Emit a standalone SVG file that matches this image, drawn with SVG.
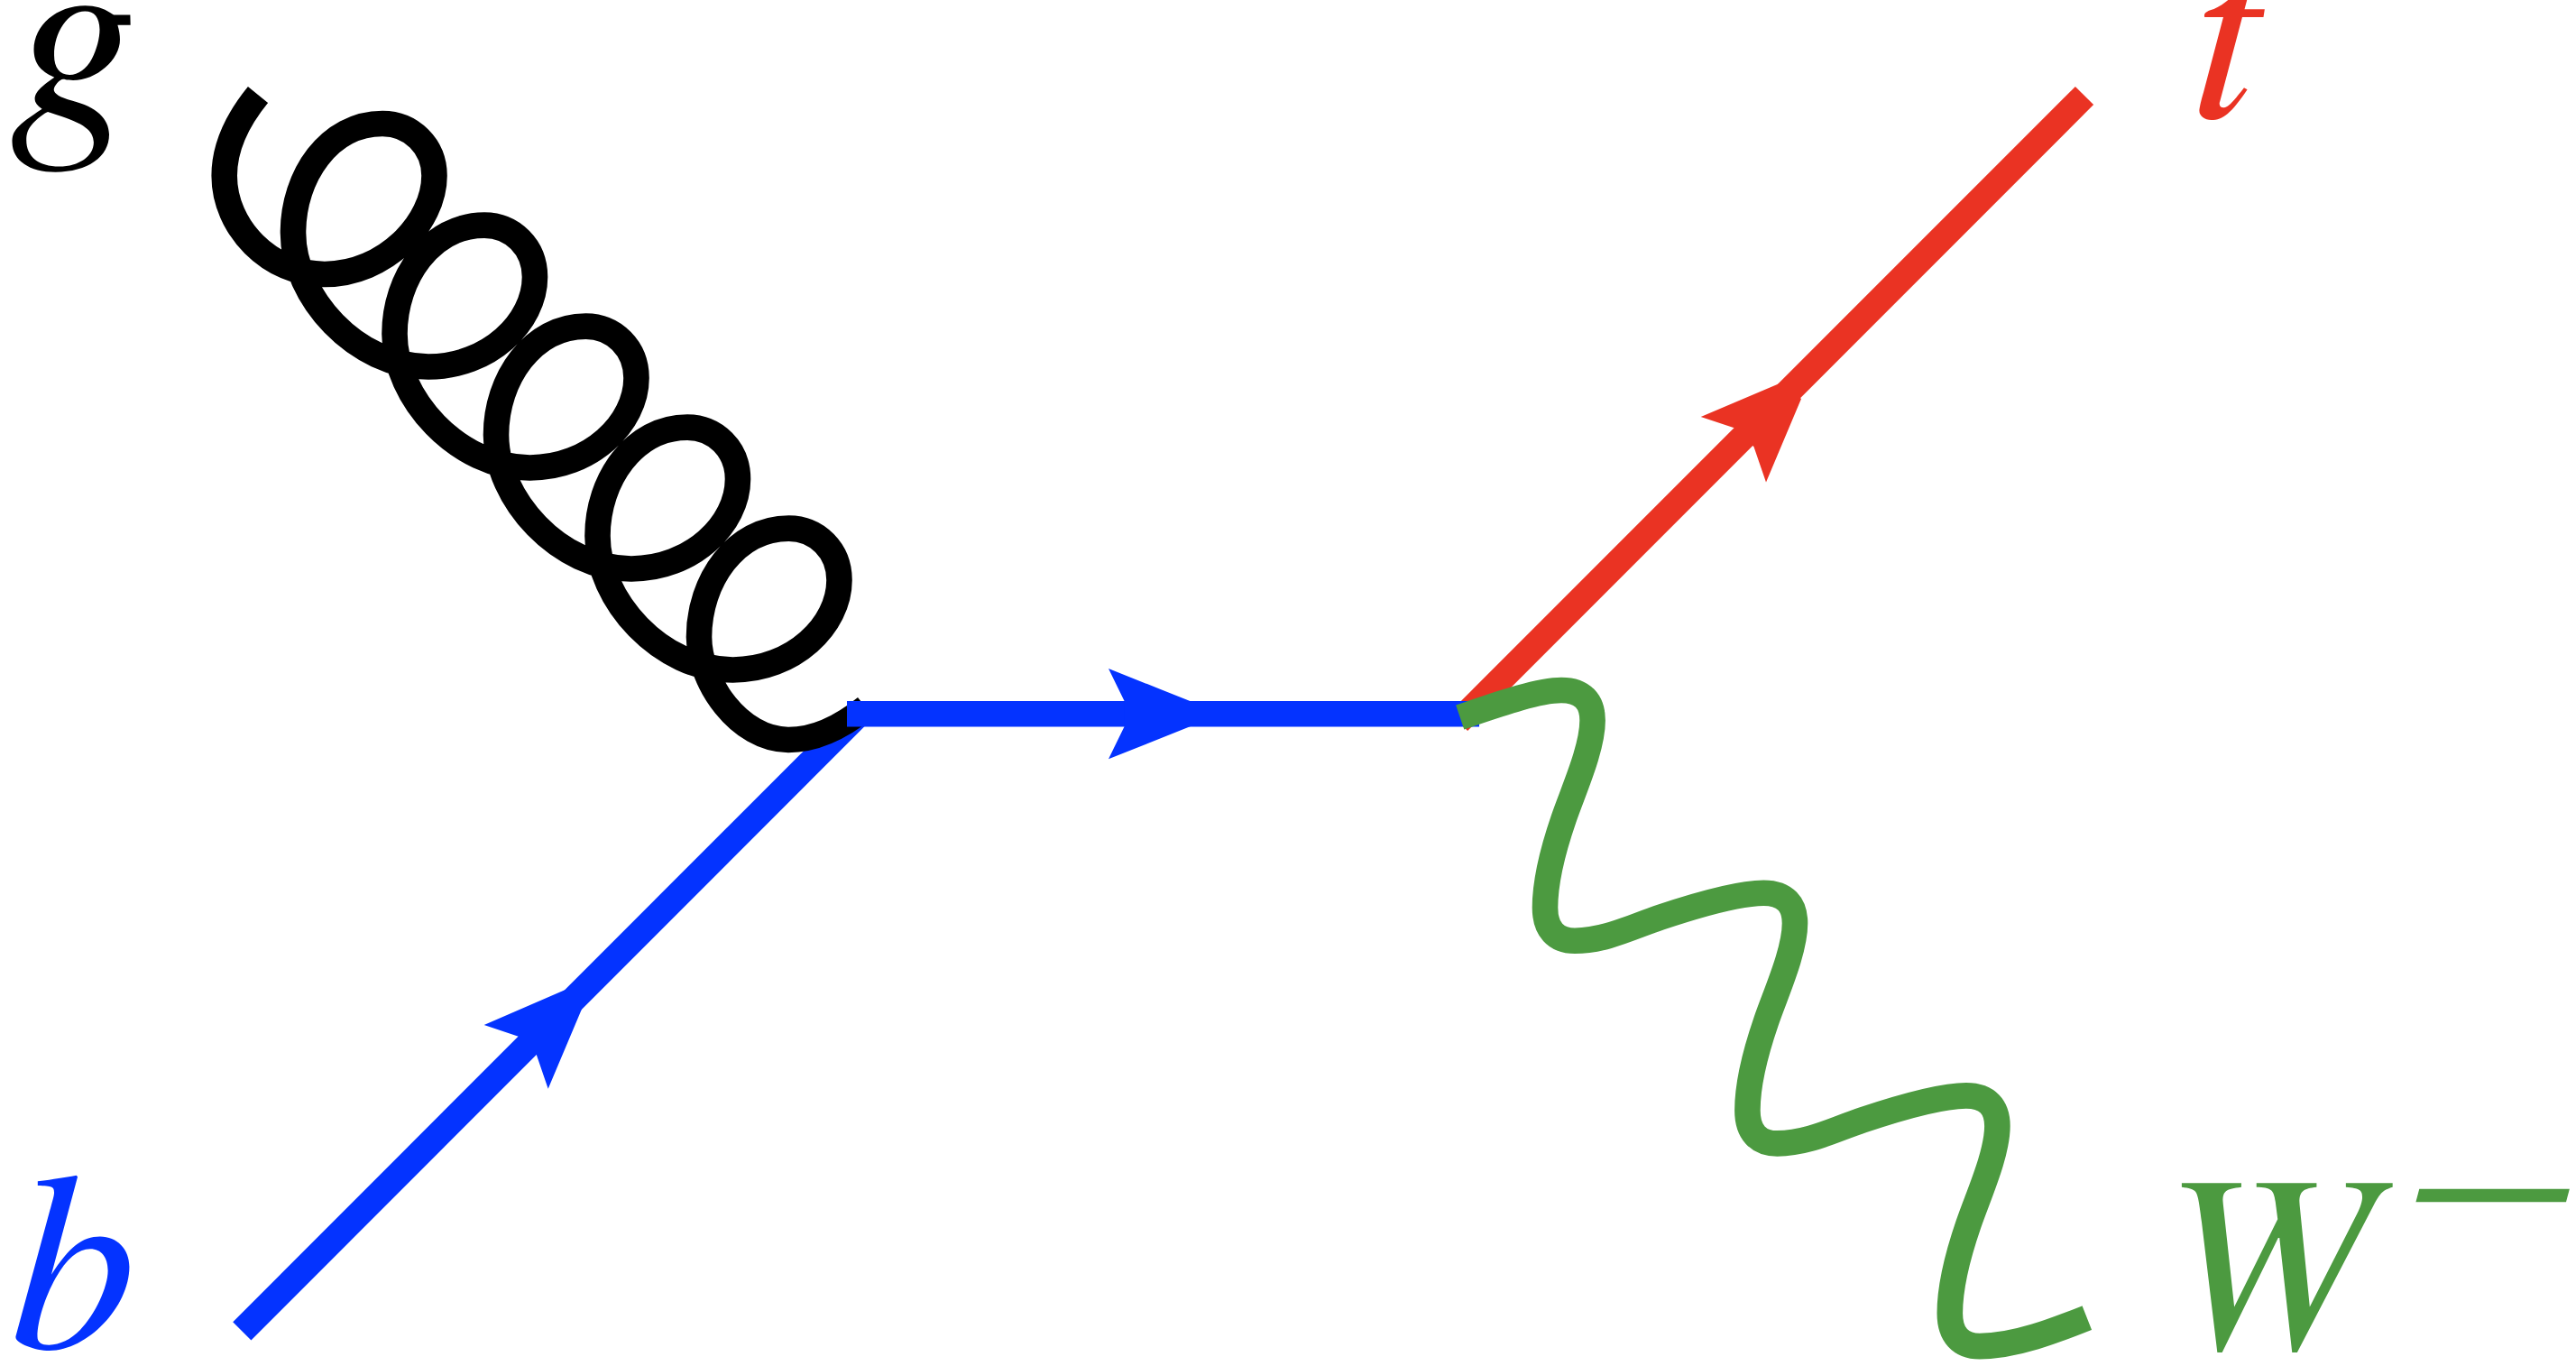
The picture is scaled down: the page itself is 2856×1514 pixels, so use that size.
<svg xmlns="http://www.w3.org/2000/svg" width="2856" height="1514" viewBox="0 0 2856 1514">
<style>
.ln{fill:none;stroke-width:28.6;stroke-linejoin:round}
.lb{font-family:"Nimbus Roman","TeX Gyre Termes",FreeSerif,"Liberation Serif",serif;font-style:italic;font-size:280px}
</style>
<rect width="2856" height="1514" fill="#fff"/>
<g id="connectors">
<path class="ln" stroke="#0433ff" d="M268.3,1475.3L954,789.5"/>
<polygon fill="#0433ff" points="536.7,1136 627.3,1096.7 646,1116 607.7,1206.7 594.7,1168.7 574.7,1148.7"/>
<path class="ln" stroke="#ea3323" d="M1617,800L2311,106"/>
<polygon fill="#ea3323" points="1885.7,462 1977.6,423 1997,442 1958,534.5 1944.5,495.3 1924.9,475"/>
<path class="ln" stroke="#000" d="M286,105 C264,132 248.7,162 248.7,194.7 C248.7,252 299,304 360,304 C427,304 481.5,247 481.5,194.7 C481.5,162 456,137 424,137 C365,137 325,195 325,258 c0,71 70,148.5 150,148.5 c67,0 118,-49.5 118,-99.5 c0,-33 -25,-57.4 -56,-57.4 c-59,0 -99.5,58.4 -99.5,120.4 c0,71 70,148.5 150,148.5 c67,0 118,-49.5 118,-99.5 c0,-33 -25,-57.4 -56,-57.4 c-59,0 -99.5,58.4 -99.5,120.4 c0,71 70,148.5 150,148.5 c67,0 118,-49.5 118,-99.5 c0,-33 -25,-57.4 -56,-57.4 c-59,0 -99.5,58.4 -99.5,120.4 c0,71 70,148.5 150,148.5 c67,0 118,-49.5 118,-99.5 c0,-33 -25,-57.4 -56,-57.4 c-59,0 -99.5,58.4 -99.5,120.4 c0,50 45,114 99,114 c30,0 60,-15 86,-36"/>
<path class="ln" stroke="#0433ff" d="M939,791.2H1640"/>
<polygon fill="#0433ff" points="1229,741 1320,777.3 1320,805 1229,841.3 1246.7,805 1246.7,777.3"/>
<path class="ln" stroke="#4c9a40" d="M1618.7,795 C1660,781 1705,765 1731,765 c24,0 34.6,13 34.6,33.6 c0,31.4 -21,77 -32,109 c-11,32 -20.6,67 -20.6,98.4 c0,24 12,36.7 33,36.7 c34,0 64.6,-16 94.6,-26 c30,-10 84.8,-27 114.8,-27 c24,0 34.6,13 34.6,33.6 c0,31.4 -21,77 -32,109 c-11,32 -20.6,67 -20.6,98.4 c0,24 12,36.7 33,36.7 c34,0 64.6,-16 94.6,-26 c30,-10 84.8,-27 114.8,-27 c24,0 34.6,13 34.6,33.6 c0,31.4 -21,77 -32,109 c-11,32 -20.6,67 -20.6,98.4 c0,24 12,36.7 33,36.7 c40,0 85,-18 119,-31.5"/>
</g>
<g id="node-g"><text class="lb" style="font-size:285px" x="11" y="132" fill="#000">g</text></g>
<g id="node-b"><text class="lb" x="11" y="1494" fill="#0433ff">b</text></g>
<g id="node-t"><text class="lb" x="2428" y="130" fill="#ea3323">t</text></g>
<g id="node-w"><text class="lb" x="2399" y="1494" fill="#4c9a40">W</text><text class="lb" transform="translate(2653.4,1379.6) skewX(-15) scale(1,.78)" fill="#4c9a40">−</text></g>
</svg>
